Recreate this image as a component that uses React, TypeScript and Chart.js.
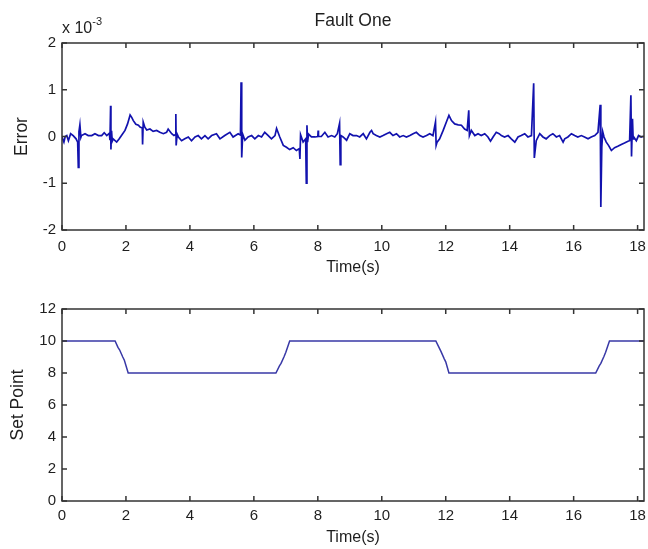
import React, { useEffect, useRef } from "react";
import { Chart, registerables } from "chart.js";

Chart.register(...registerables);

const FONT = "'Liberation Sans', Arial, Helvetica, sans-serif";
const TEXT_COLOR = "#1e1e1e";
const FRAME_COLOR = "#333333";

// ---- Text ----
const errorTitle = "Fault One";
const errorAxisLabel = "Error";
const timeAxisLabel = "Time(s)";
const setPointAxisLabel = "Set Point";
const errorScaleBase = "x 10";
const errorScaleExponent = "-3";

// ---- Tick labels ----
const timeTicks = [0, 2, 4, 6, 8, 10, 12, 14, 16, 18];
const errorTicks = [-2, -1, 0, 1, 2];
const setPointTicks = [0, 2, 4, 6, 8, 10, 12];
const timeMax = 18.2;

// ---- Error series (values in units of 1e-3) ----
const errorTime = [
  0.0, 0.06, 0.1, 0.15, 0.2, 0.27, 0.35, 0.44, 0.49, 0.51, 0.53, 0.56, 0.59, 0.61, 0.72, 0.82, 0.93, 1.03, 1.14, 1.24,
  1.32, 1.4, 1.48, 1.5, 1.52, 1.53, 1.55, 1.57, 1.6, 1.71, 1.79, 1.86, 1.97, 2.05, 2.13, 2.18, 2.23, 2.31, 2.39, 2.44,
  2.51, 2.52, 2.54, 2.59, 2.65, 2.75, 2.85, 2.96, 3.06, 3.17, 3.27, 3.32, 3.43, 3.5, 3.55, 3.56, 3.57, 3.6, 3.64, 3.74,
  3.84, 3.95, 4.05, 4.16, 4.26, 4.36, 4.47, 4.57, 4.68, 4.83, 4.94, 5.09, 5.25, 5.35, 5.51, 5.58, 5.6, 5.62, 5.65, 5.72,
  5.82, 5.93, 6.03, 6.14, 6.24, 6.34, 6.45, 6.55, 6.66, 6.71, 6.81, 6.92, 7.02, 7.12, 7.23, 7.33, 7.42, 7.44, 7.46, 7.54,
  7.62, 7.64, 7.66, 7.68, 7.71, 7.8, 7.91, 8.0, 8.01, 8.02, 8.11, 8.22, 8.32, 8.43, 8.53, 8.61, 8.68, 8.7, 8.72, 8.79,
  8.9, 9.0, 9.1, 9.21, 9.31, 9.42, 9.52, 9.63, 9.68, 9.73, 9.83, 9.94, 10.04, 10.15, 10.25, 10.35, 10.46, 10.56, 10.67, 10.77,
  10.88, 10.98, 11.08, 11.19, 11.29, 11.4, 11.5, 11.6, 11.68, 11.7, 11.73, 11.81, 11.92, 12.02, 12.1, 12.18, 12.28, 12.39, 12.49, 12.59,
  12.67, 12.72, 12.74, 12.8, 12.91, 13.01, 13.11, 13.22, 13.32, 13.4, 13.48, 13.58, 13.67, 13.74, 13.84, 13.95, 14.05, 14.16, 14.26, 14.36,
  14.47, 14.57, 14.68, 14.75, 14.77, 14.83, 14.94, 15.04, 15.14, 15.25, 15.35, 15.46, 15.56, 15.67, 15.72, 15.82, 15.93, 16.03, 16.13, 16.24,
  16.34, 16.45, 16.55, 16.66, 16.76, 16.83, 16.85, 16.88, 16.91, 16.95, 17.02, 17.09, 17.18, 17.28, 17.38, 17.49, 17.59, 17.7, 17.75, 17.79,
  17.81, 17.84, 17.86, 17.88, 17.96, 18.03, 18.11, 18.16, 18.2,
];
const errorValue = [
  -0.01, -0.12, 0.0, 0.02, -0.09, 0.06, 0.02, -0.05, -0.12, -0.66, 0.1, 0.25, -0.02, 0.02, 0.06, 0.02, 0.02, 0.06, 0.02, 0.02,
  0.08, 0.02, 0.07, -0.08, 0.66, -0.28, 0.12, -0.1, -0.05, -0.12, -0.05, 0.02, 0.13, 0.27, 0.46, 0.41, 0.34, 0.26, 0.24, 0.2,
  0.18, -0.17, 0.31, 0.2, 0.14, 0.16, 0.11, 0.13, 0.09, 0.06, 0.09, 0.16, 0.06, 0.02, 0.04, 0.48, -0.19, 0.05, -0.01, -0.09,
  -0.05, -0.01, -0.09, -0.01, 0.02, -0.05, 0.02, -0.05, 0.02, 0.06, -0.05, 0.02, 0.09, -0.01, 0.06, 0.03, 1.16, -0.45, 0.05, -0.08,
  -0.01, 0.02, -0.05, 0.02, -0.01, 0.09, 0.02, -0.05, 0.02, 0.17, -0.01, -0.19, -0.23, -0.28, -0.24, -0.3, -0.26, -0.48, 0.04, -0.12,
  -0.05, -1.0, 0.24, -0.12, 0.05, -0.01, -0.01, 0.0, 0.13, 0.0, 0.0, 0.09, -0.01, 0.02, -0.01, 0.06, 0.28, -0.6, 0.02, -0.01,
  -0.08, 0.06, 0.02, 0.02, -0.01, 0.06, -0.05, 0.09, 0.13, 0.06, 0.02, -0.01, 0.02, 0.06, 0.09, 0.02, 0.06, -0.01, 0.02, -0.01,
  0.02, 0.06, 0.09, 0.02, -0.01, 0.02, 0.06, 0.02, 0.31, -0.19, -0.12, -0.05, 0.13, 0.31, 0.45, 0.34, 0.27, 0.25, 0.24, 0.16,
  0.13, 0.56, 0.02, 0.13, 0.02, 0.06, 0.02, 0.06, -0.01, -0.1, -0.01, 0.09, 0.06, 0.02, -0.01, 0.02, -0.05, -0.12, -0.01, 0.02,
  0.06, -0.01, 0.02, 1.14, -0.46, -0.09, 0.06, -0.01, -0.05, 0.02, 0.06, -0.01, 0.02, -0.12, -0.05, -0.01, 0.06, 0.02, -0.01, 0.02,
  -0.01, -0.05, -0.01, 0.02, 0.09, 0.68, -1.51, -0.23, 0.1, -0.01, -0.12, -0.19, -0.3, -0.24, -0.21, -0.17, -0.14, -0.1, -0.09, 0.88,
  -0.43, 0.38, -0.05, -0.01, -0.09, 0.02, -0.01, 0.0, 0.0,
];

// ---- Set point series ----
const setPointTime = [
  0, 1.66, 1.75, 1.8, 1.9, 1.95, 2.07, 6.69, 6.8, 6.85, 6.95, 7.0, 7.12,
  11.69, 11.8, 11.85, 11.95, 12.0, 12.1, 16.69, 16.8, 16.85, 16.95, 17.0, 17.12, 18.2,
];
const setPointValue = [
  10, 10, 9.6, 9.45, 9.0, 8.8, 8, 8, 8.45, 8.6, 9.05, 9.3, 10,
  10, 9.55, 9.35, 8.9, 8.7, 8, 8, 8.45, 8.6, 9.05, 9.3, 10, 10,
];

const framePlugin = {
  id: "matlabFrame",
  afterDatasetsDraw(chart: any) {
    const { ctx, chartArea: a, scales } = chart;
    ctx.save();
    ctx.strokeStyle = FRAME_COLOR;
    ctx.lineWidth = 1.5;
    ctx.strokeRect(a.left, a.top, a.right - a.left, a.bottom - a.top);
    const L = 5;
    ctx.beginPath();
    scales.x.ticks.forEach((t: any) => {
      const p = scales.x.getPixelForValue(t.value);
      ctx.moveTo(p, a.bottom);
      ctx.lineTo(p, a.bottom - L);
      ctx.moveTo(p, a.top);
      ctx.lineTo(p, a.top + L);
    });
    scales.y.ticks.forEach((t: any) => {
      const p = scales.y.getPixelForValue(t.value);
      ctx.moveTo(a.left, p);
      ctx.lineTo(a.left + L, p);
      ctx.moveTo(a.right, p);
      ctx.lineTo(a.right - L, p);
    });
    ctx.stroke();
    ctx.restore();
  },
};

const exponentPlugin = {
  id: "exponentLabel",
  afterDraw(chart: any) {
    const { ctx, chartArea: a } = chart;
    ctx.save();
    ctx.fillStyle = TEXT_COLOR;
    ctx.textAlign = "left";
    ctx.textBaseline = "alphabetic";
    ctx.font = `16px ${FONT}`;
    ctx.fillText(errorScaleBase, a.left, a.top - 10);
    const w = ctx.measureText(errorScaleBase).width;
    ctx.font = `11px ${FONT}`;
    ctx.fillText(errorScaleExponent, a.left + w, a.top - 18);
    ctx.restore();
  },
};

function xScale(tickPadding: number, titleBottom: number, height: number) {
  return {
    type: "linear",
    min: 0,
    max: timeMax,
    grid: { display: false, drawTicks: false },
    border: { display: false },
    ticks: {
      padding: tickPadding,
      font: { family: FONT, size: 15 },
      color: TEXT_COLOR,
      maxRotation: 0,
      autoSkip: false,
      callback: (v: any) => String(v),
    },
    title: {
      display: true,
      text: timeAxisLabel,
      font: { family: FONT, size: 16, lineHeight: 1.2 },
      color: TEXT_COLOR,
      padding: { top: 0, bottom: titleBottom },
    },
    afterBuildTicks: (s: any) => {
      s.ticks = timeTicks.map((v) => ({ value: v }));
    },
    afterFit: (s: any) => {
      s.height = height;
      s.paddingLeft = 0;
      s.paddingRight = 0;
    },
  };
}

function yScale(ticksArr: number[], min: number, max: number, label: string, titleTop: number) {
  return {
    type: "linear",
    min,
    max,
    grid: { display: false, drawTicks: false },
    border: { display: false },
    ticks: {
      padding: 6,
      font: { family: FONT, size: 15 },
      color: TEXT_COLOR,
      autoSkip: false,
      callback: (v: any) => String(v),
    },
    title: {
      display: true,
      text: label,
      font: { family: FONT, size: 17.5, lineHeight: 1.2 },
      color: TEXT_COLOR,
      padding: { top: titleTop, bottom: 0 },
    },
    afterBuildTicks: (s: any) => {
      s.ticks = ticksArr.map((v) => ({ value: v }));
    },
    afterFit: (s: any) => {
      s.width = 62;
      s.paddingTop = 0;
      s.paddingBottom = 0;
    },
  };
}

export default function App() {
  const topRef = useRef<HTMLCanvasElement>(null);
  const bottomRef = useRef<HTMLCanvasElement>(null);

  useEffect(() => {
    const errorData = errorTime.map((t, i) => ({ x: t, y: errorValue[i] }));
    const setPointData = setPointTime.map((t, i) => ({ x: t, y: setPointValue[i] }));

    const top = new Chart(topRef.current as HTMLCanvasElement, {
      type: "line",
      data: {
        datasets: [
          {
            data: errorData,
            borderColor: "#1212ae",
            borderWidth: 1.7,
            pointRadius: 0,
            tension: 0,
          },
        ],
      },
      options: {
        animation: false,
        responsive: false,
        devicePixelRatio: 1,
        layout: { padding: { left: 0, right: 4, top: 0, bottom: 0 } },
        plugins: {
          legend: { display: false },
          tooltip: { enabled: false },
          title: {
            display: true,
            text: errorTitle,
            fullSize: false,
            color: TEXT_COLOR,
            font: { family: FONT, size: 17.5, weight: "normal", lineHeight: 1.2 },
            padding: { top: 11, bottom: 11 },
          },
        },
        scales: {
          x: xScale(8, 3, 50),
          y: yScale(errorTicks, -2, 2, errorAxisLabel, 12),
        },
      } as any,
      plugins: [framePlugin, exponentPlugin],
    });

    const bottom = new Chart(bottomRef.current as HTMLCanvasElement, {
      type: "line",
      data: {
        datasets: [
          {
            data: setPointData,
            borderColor: "#3838a6",
            borderWidth: 1.5,
            pointRadius: 0,
            tension: 0,
          },
        ],
      },
      options: {
        animation: false,
        responsive: false,
        devicePixelRatio: 1,
        layout: { padding: { left: 0, right: 4, top: 29, bottom: 0 } },
        plugins: {
          legend: { display: false },
          tooltip: { enabled: false },
        },
        scales: {
          x: xScale(6, 1.5, 48),
          y: yScale(setPointTicks, 0, 12, setPointAxisLabel, 8),
        },
      } as any,
      plugins: [framePlugin],
    });

    return () => {
      top.destroy();
      bottom.destroy();
    };
  }, []);

  return (
    <div style={{ position: "fixed", left: 0, top: 0, width: 648, height: 549, background: "#ffffff" }}>
      <canvas
        ref={topRef}
        width={648}
        height={280}
        style={{ position: "absolute", left: 0, top: 0, width: 648, height: 280 }}
      />
      <canvas
        ref={bottomRef}
        width={648}
        height={269}
        style={{ position: "absolute", left: 0, top: 280, width: 648, height: 269 }}
      />
    </div>
  );
}
